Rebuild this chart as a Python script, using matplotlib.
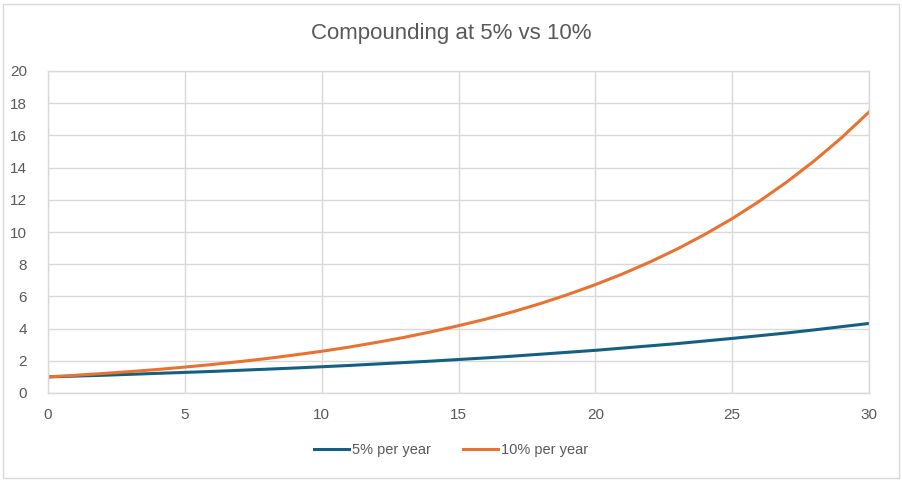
import matplotlib
matplotlib.use("Agg")
from matplotlib import pyplot as plt
import matplotlib.patches as mpatches

# Values (growth of 1 unit, yearly points)
years = list(range(0, 31))
rate_5 = [1.00, 1.05, 1.10, 1.16, 1.22, 1.28, 1.34, 1.41, 1.48, 1.55,
          1.63, 1.71, 1.80, 1.89, 1.98, 2.08, 2.18, 2.29, 2.41, 2.53,
          2.65, 2.79, 2.93, 3.07, 3.23, 3.39, 3.56, 3.73, 3.92, 4.12,
          4.32]
rate_10 = [1.00, 1.10, 1.21, 1.33, 1.46, 1.61, 1.77, 1.95, 2.14, 2.36,
           2.59, 2.85, 3.14, 3.45, 3.80, 4.18, 4.59, 5.05, 5.56, 6.12,
           6.73, 7.40, 8.14, 8.95, 9.85, 10.83, 11.92, 13.11, 14.42, 15.86,
           17.45]
x_ticks = [0, 5, 10, 15, 20, 25, 30]
y_ticks = [0, 2, 4, 6, 8, 10, 12, 14, 16, 18, 20]
series_names = ["5% per year", "10% per year"]
title = "Compounding at 5% vs 10%"

grid_col = "#d9d9d9"
text_col = "#595959"
plt.rcParams.update({"font.family": ["Liberation Sans", "DejaVu Sans"],
                     "font.size": 11})

fig = plt.figure(figsize=(9.02, 4.82), dpi=100)
# light outer border like an Excel chart object
fig.patches.append(mpatches.Rectangle((3 / 902, 4 / 482), 896 / 902, 474 / 482,
                                      transform=fig.transFigure, fill=False,
                                      edgecolor=grid_col, linewidth=1.0))

ax = fig.add_axes([48 / 902, 1 - 393 / 482, 821 / 902, 322 / 482])
ax.plot(years, rate_5, color="#156082", linewidth=2.2, label=series_names[0])
ax.plot(years, rate_10, color="#E97132", linewidth=2.2, label=series_names[1])

ax.set_xlim(0, 30)
ax.set_ylim(0, 20)
ax.set_xticks(x_ticks)
ax.set_yticks(y_ticks)
ax.grid(True, color=grid_col, linewidth=1.0)
ax.set_axisbelow(True)
for s in ax.spines.values():
    s.set_color(grid_col)
    s.set_linewidth(1.0)
ax.tick_params(length=0, colors=text_col, labelsize=11)
ax.tick_params(axis="x", pad=11)
ax.tick_params(axis="y", pad=15)

fig.text(0.5, 1 - 34 / 482, title, ha="center", va="center",
         fontsize=16, color=text_col)

fig.legend(loc="center", bbox_to_anchor=(0.5, 1 - 450 / 482), ncol=2,
           frameon=False, handlelength=2.4, columnspacing=2.2,
           handletextpad=0.2, labelcolor=text_col, fontsize=10.5)

fig.savefig("out.png", dpi=100)
